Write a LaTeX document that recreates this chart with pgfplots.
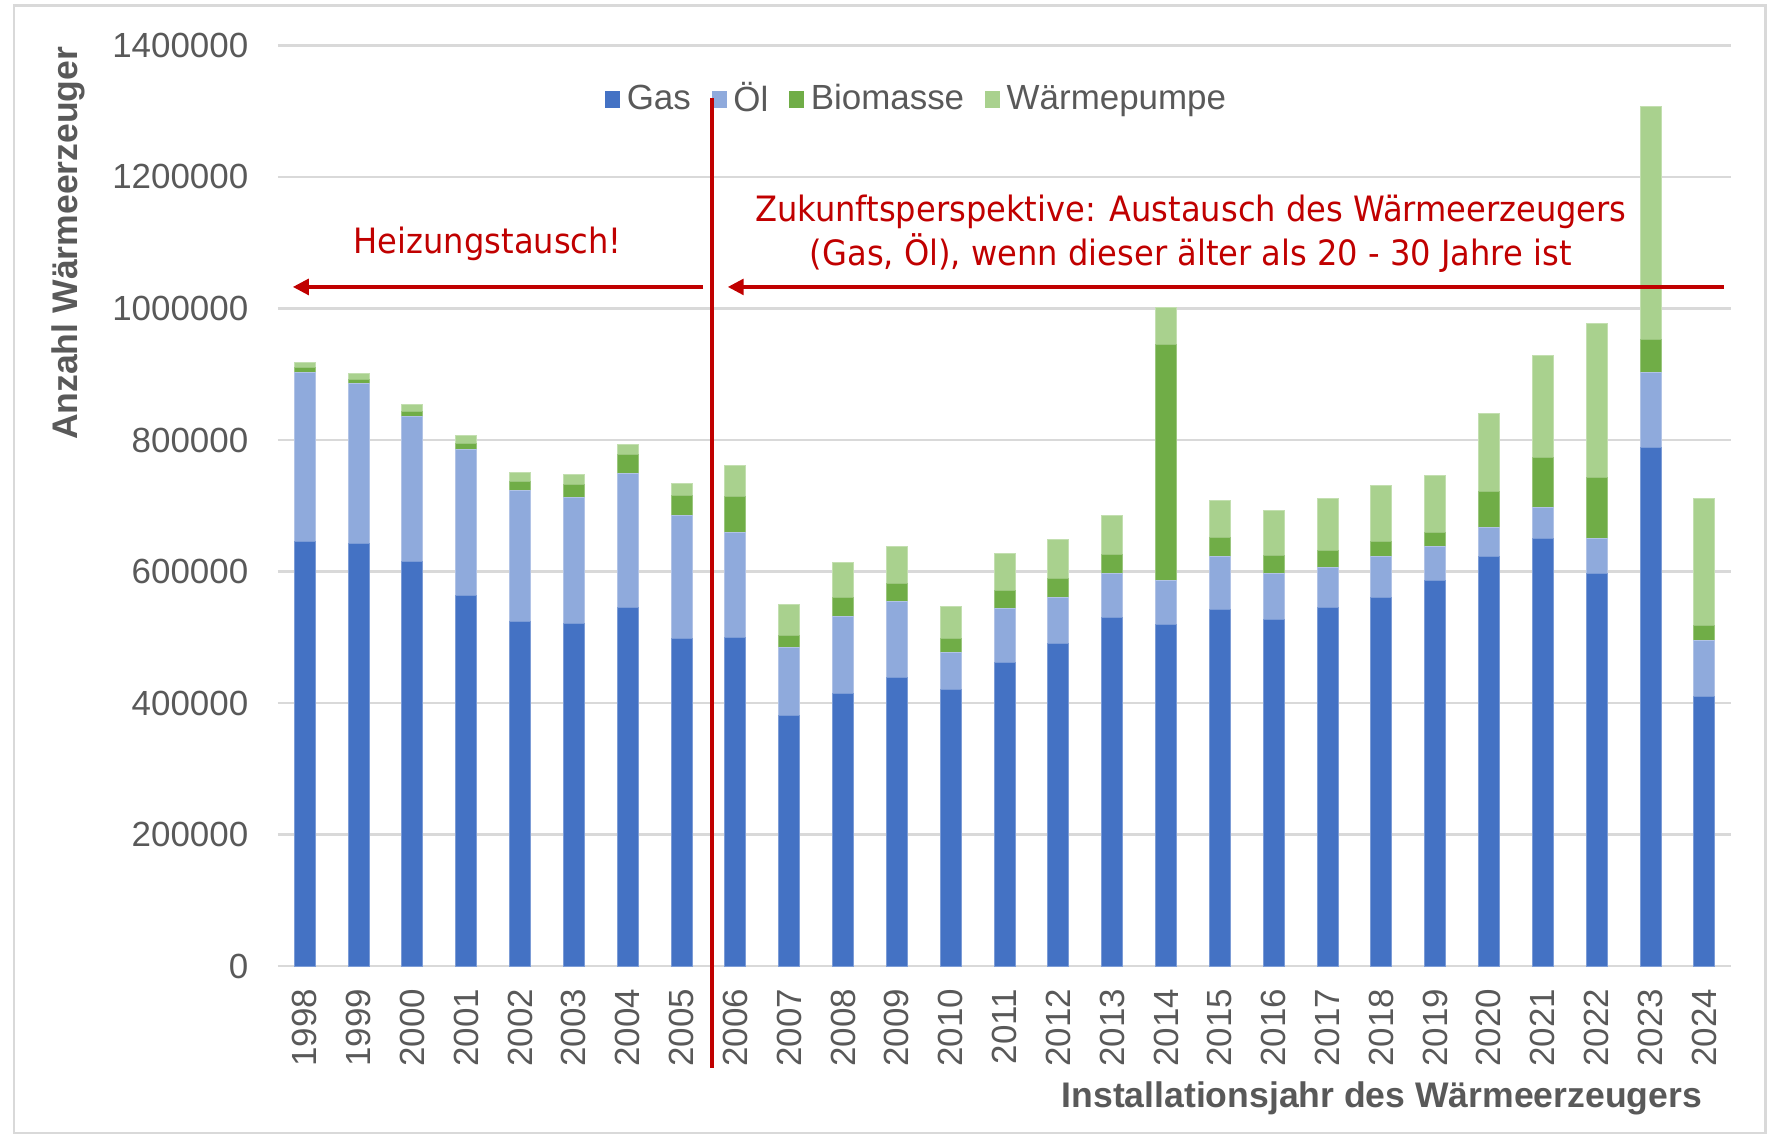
\documentclass[border=0pt]{standalone}
\usepackage{pgfplots}
\pgfplotsset{compat=1.18}
\usepackage{pgfplotstable}
\usepackage{fontspec}
\setmainfont{Liberation Sans}
\newfontfamily\redfont[FakeStretch=0.92]{DejaVu Sans}
\usetikzlibrary{arrows.meta}
\definecolor{gasc}{HTML}{4472C4}
\definecolor{oelc}{HTML}{8FAADC}
\definecolor{bioc}{HTML}{70AD47}
\definecolor{wpc}{HTML}{A9D18E}
\definecolor{tickgray}{HTML}{595959}
\definecolor{gridgray}{HTML}{D9D9D9}
\definecolor{darkred}{HTML}{C00000}
\definecolor{framegray}{HTML}{D9D9D9}

\pgfplotstableread{
year gas oel bio wp
1998 646100 257100 7600 7600
1999 643100 242400 7000 8200
2000 614800 221000 8100 10100
2001 563100 223000 8100 13200
2002 524000 199700 13200 13200
2003 521400 191600 18900 15200
2004 544800 204700 28900 15200
2005 498100 186700 31300 18200
2006 500100 158800 54800 47100
2007 381000 103400 18800 46600
2008 414500 116600 28900 54200
2009 438300 116600 26400 56800
2010 420100 56700 20900 49100
2011 461600 82600 26500 57200
2012 490100 69900 28900 59800
2013 529600 66900 28900 59400
2014 519000 66900 358900 57200
2015 541800 80600 28900 56700
2016 526700 69900 28400 67200
2017 545100 61600 25800 78000
2018 560000 62300 23800 84700
2019 586400 51500 21100 87400
2020 622300 44100 54900 118700
2021 650800 46800 75300 155200
2022 596600 54200 91500 235300
2023 788500 114500 49500 354600
2024 409500 85400 23700 191900
}\data

\begin{document}
\begin{tikzpicture}
\path (0,0) rectangle (560pt,357.5pt);
\draw[framegray, line width=0.8pt] (4.4pt,0.6pt) rectangle (556pt,355.8pt);
\begin{axis}[
  at={(87.5pt,53.2pt)}, anchor=south west,
  scale only axis, width=457.8pt, height=290pt,
  ybar stacked, bar width=0.39,
  xmin=1997.5, xmax=2024.5,
  ymin=0, ymax=1400000,
  xtick={1998,...,2024},
  ytick={0,200000,...,1400000},
  scaled y ticks=false,
  /pgf/number format/fixed,
  /pgf/number format/1000 sep={},
  /pgf/number format/assume math mode=true,
  axis line style={draw=none},
  major tick length=0pt,
  ymajorgrids, grid style={gridgray, line width=0.8pt},
  font=\fontsize{11}{13}\selectfont,
  ticklabel style={text=tickgray, font=\fontsize{11}{13}\selectfont},
  yticklabel style={inner sep=0pt, xshift=-9.1pt, anchor=east},
  xticklabel style={rotate=90, anchor=east, inner sep=0pt, xshift=-7pt},
  xlabel={Installationsjahr des Wärmeerzeugers},
  ylabel={Anzahl Wärmeerzeuger},
  xlabel style={at={(axis description cs:0.9875,-0.1431)}, anchor=east, font=\fontsize{11.2}{13}\selectfont\bfseries, text=tickgray},
  ylabel style={at={(axis description cs:-0.1444,0.785)}, anchor=center, font=\fontsize{11.2}{13}\selectfont\bfseries, text=tickgray},
  legend columns=-1,
  legend style={draw=none, fill=none, at={(0.441,0.941)}, anchor=center,
    font=\fontsize{11}{13}\selectfont, text=tickgray,
    /tikz/every even column/.append style={column sep=4.6pt}},
  legend image code/.code={\fill[#1,draw=none] (0pt,-2.6pt) rectangle (4.8pt,2.6pt);},
  clip=false,
]
\addplot[fill=gasc, draw=gasc!70!white, line width=0.3pt] table[x=year,y=gas]{\data};
\addplot[fill=oelc, draw=oelc!70!white, line width=0.3pt] table[x=year,y=oel]{\data};
\addplot[fill=bioc, draw=bioc!70!white, line width=0.3pt] table[x=year,y=bio]{\data};
\addplot[fill=wpc, draw=wpc!70!white, line width=0.3pt] table[x=year,y=wp]{\data};
\legend{Gas,Öl,Biomasse,Wärmepumpe}
\coordinate (vtop) at (axis cs:2005.57,1320000);
\coordinate (vbot) at (axis cs:2005.57,-155000);
\coordinate (la) at (axis cs:2005.40,1032700);
\coordinate (lb) at (axis cs:1997.78,1032700);
\coordinate (ra) at (axis cs:2024.36,1032700);
\coordinate (rb) at (axis cs:2005.86,1032700);
\coordinate (ht) at (axis cs:2001.4,1097700);
\coordinate (zt) at (axis cs:2014.46,1113700);
\end{axis}
\draw[darkred, line width=1.4pt] (vtop) -- (vbot);
\draw[darkred, line width=1pt, -{Triangle[width=5pt,length=5pt]}] (la) -- (lb);
\draw[darkred, line width=1pt, -{Triangle[width=5pt,length=5pt]}] (ra) -- (rb);
\node[text=darkred, font=\redfont\fontsize{11}{13.6}\selectfont, inner sep=0pt] at (ht) {Heizungstausch!};
\node[text=darkred, font=\redfont\fontsize{11}{13.6}\selectfont, align=center, inner sep=0pt] at (zt) {Zukunftsperspektive: Austausch des Wärmeerzeugers\\(Gas, Öl), wenn dieser älter als 20 - 30 Jahre ist};
\end{tikzpicture}
\end{document}
